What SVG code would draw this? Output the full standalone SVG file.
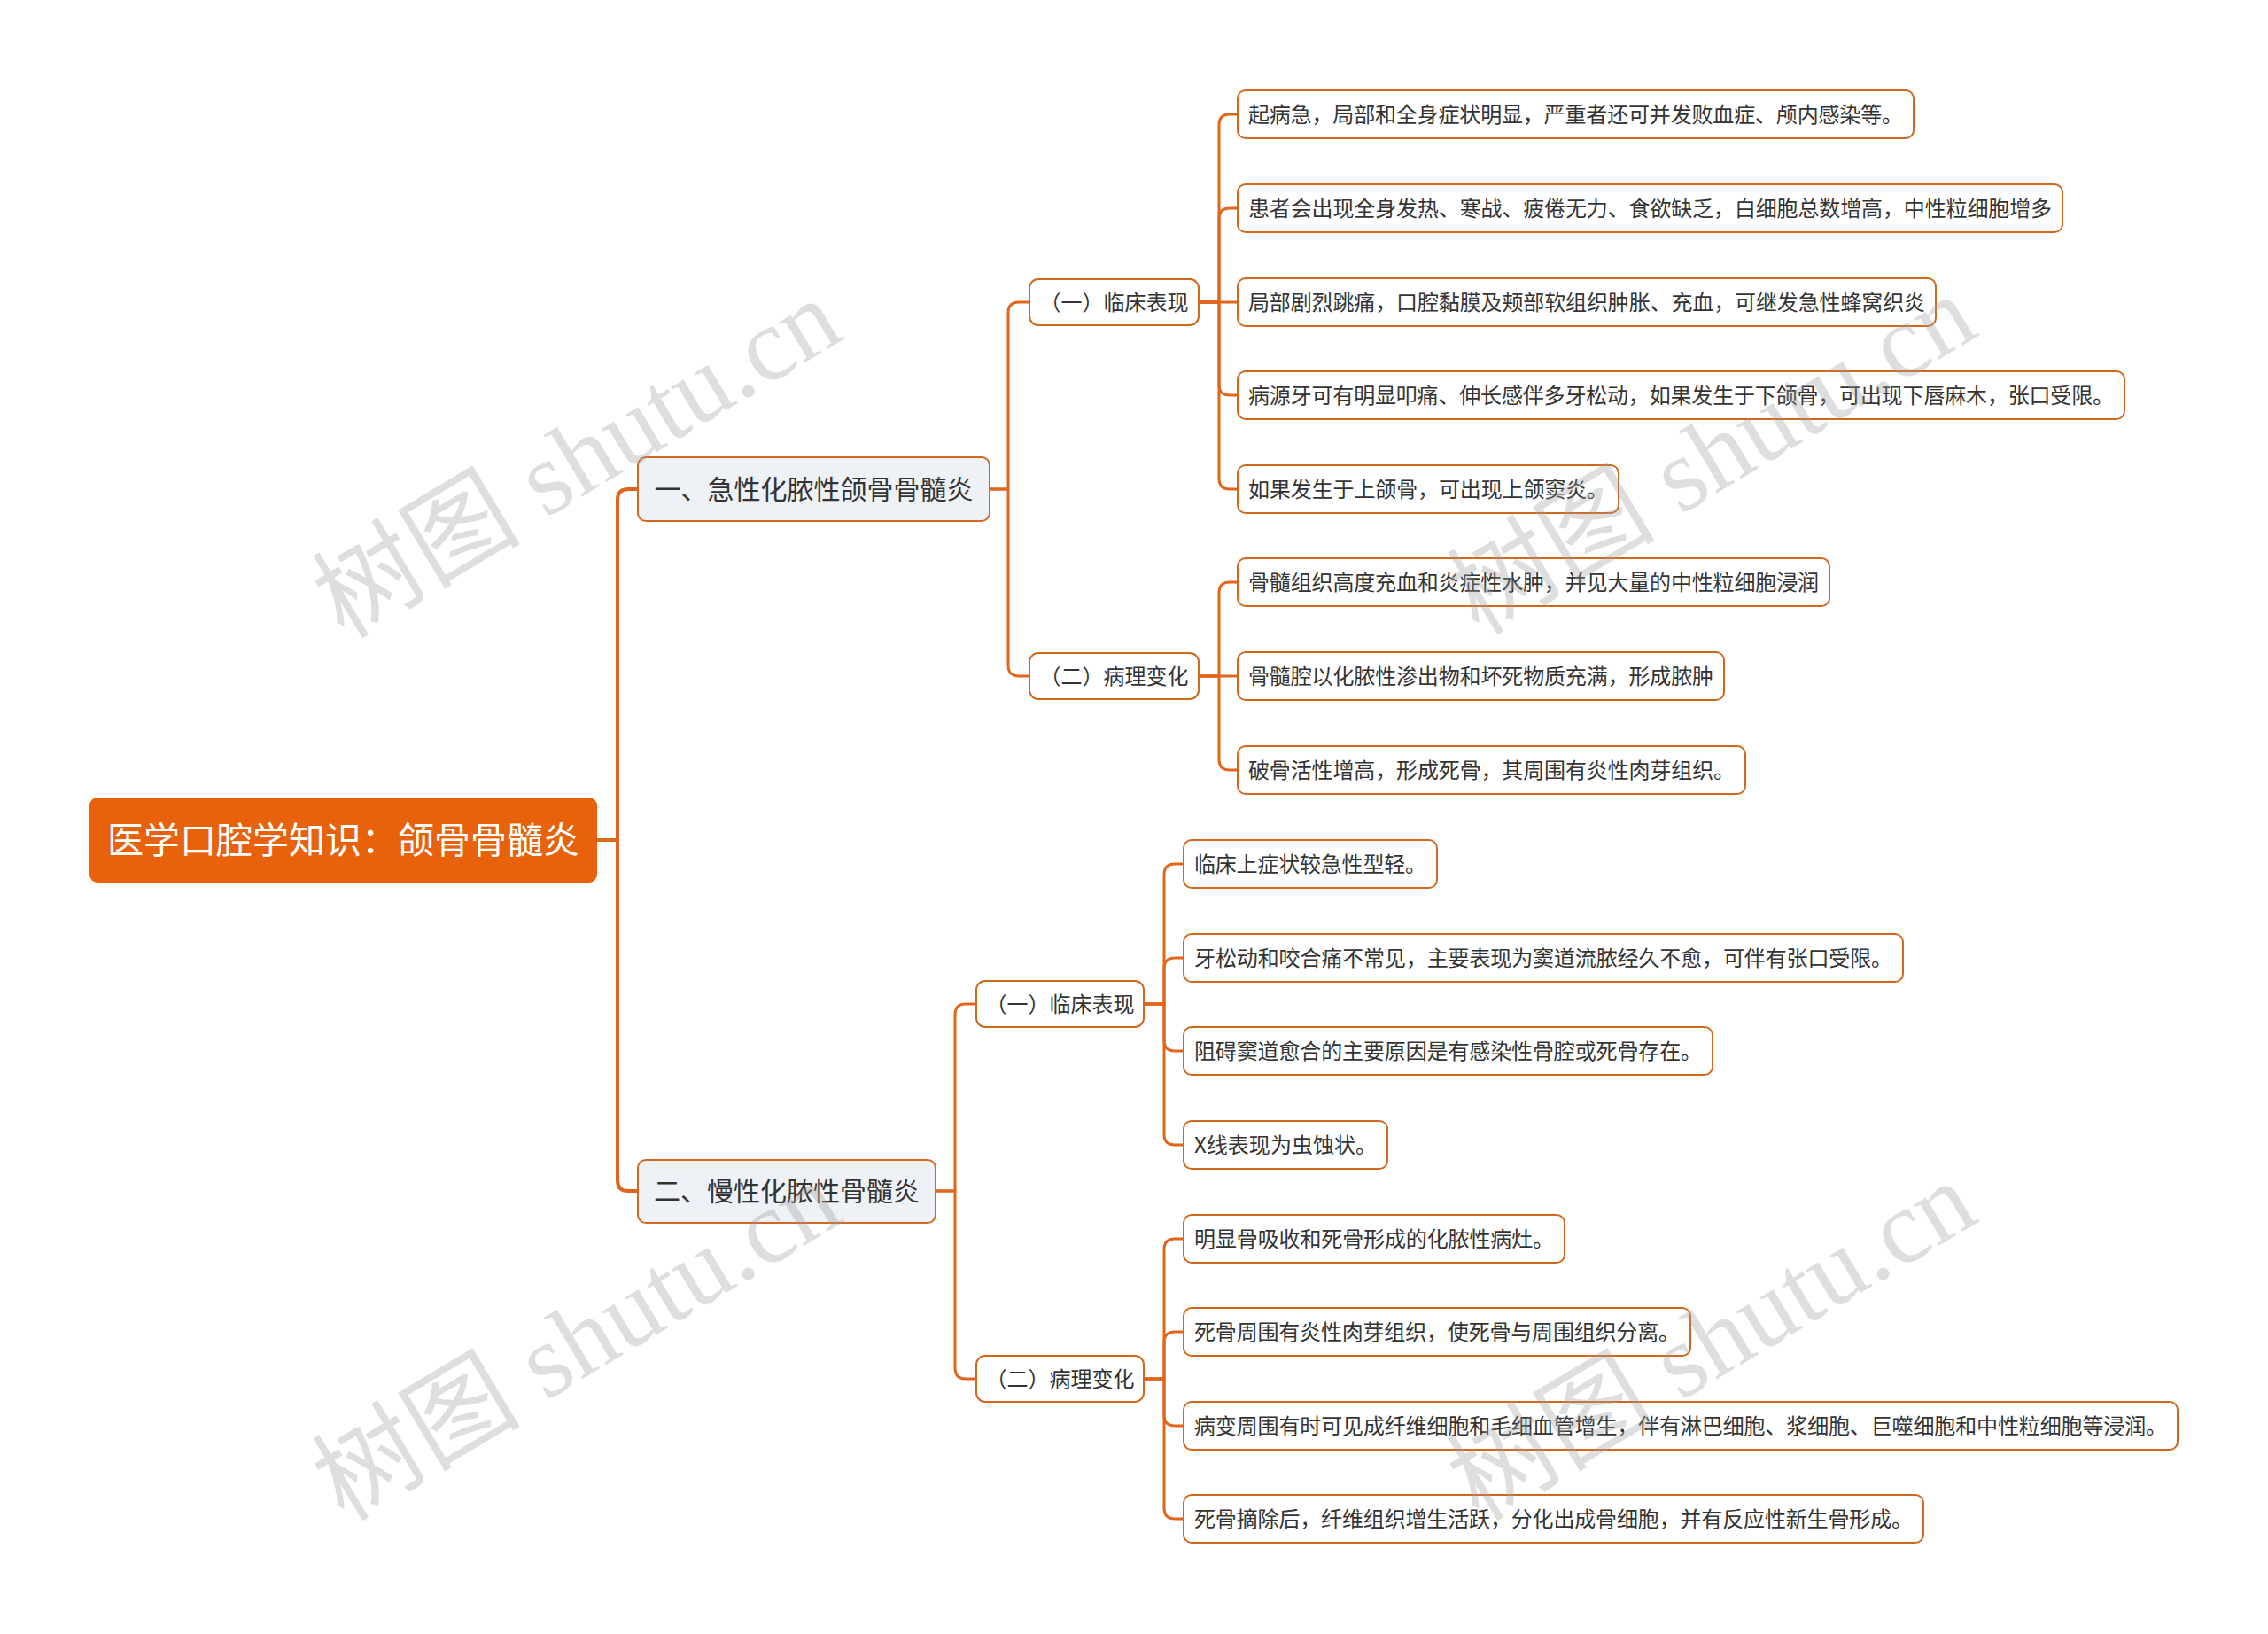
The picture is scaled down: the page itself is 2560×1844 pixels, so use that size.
<svg xmlns="http://www.w3.org/2000/svg" width="2560" height="1844" viewBox="0 0 2560 1844">
<style>
.conn{fill:none;stroke:#E2651C;stroke-width:3;stroke-linecap:round;stroke-linejoin:round}
.conn0{fill:none;stroke:#E2651C;stroke-width:4;stroke-linecap:round;stroke-linejoin:round}
.leaf rect{fill:#FFFFFF;stroke:#D2681F;stroke-width:2}
.l2 rect{fill:#FFFFFF;stroke:#D2681F;stroke-width:2}
.l1 rect{fill:#EEF1F5;stroke:#D2681F;stroke-width:2}
.root rect{fill:#E8620C}
text{font-family:"Noto Sans CJK SC","Noto Sans",sans-serif;fill:#333333}
.leaf text{font-size:24px}
.l2 text{font-size:24px;text-anchor:middle}
.l1 text{font-size:30px;text-anchor:middle}
.root text{font-size:41px;fill:#FFFFFF;text-anchor:middle}
.wm{font-family:"Liberation Serif","Noto Sans CJK SC",serif;font-size:118px;fill:#9A9A9A;fill-opacity:0.33;text-anchor:middle}
</style>
<rect x="0" y="0" width="2560" height="1844" fill="#FFFFFF"/>
<g id="connectors">
<path class="conn0" d="M674,948 H697"/>
<path class="conn0" d="M674,948 H697 V564 Q697,552 709,552 H720"/>
<path class="conn0" d="M674,948 H697 V1332 Q697,1344 709,1344 H720"/>
<path class="conn" d="M1117,552 H1138 V353 Q1138,341 1150,341 H1162"/>
<path class="conn" d="M1117,552 H1138 V751 Q1138,763 1150,763 H1162"/>
<path class="conn" d="M1056,1344 H1078 V1145 Q1078,1133 1090,1133 H1102"/>
<path class="conn" d="M1056,1344 H1078 V1544 Q1078,1556 1090,1556 H1102"/>
<path class="conn" d="M1353,341 H1376 V141 Q1376,129 1388,129 H1397"/>
<path class="conn" d="M1353,341 H1376 V247 Q1376,235 1388,235 H1397"/>
<path class="conn" d="M1353,341 H1397"/>
<path class="conn" d="M1353,341 H1376 V434 Q1376,446 1388,446 H1397"/>
<path class="conn" d="M1353,341 H1376 V540 Q1376,552 1388,552 H1397"/>
<path class="conn" d="M1353,763 H1376 V669 Q1376,657 1388,657 H1397"/>
<path class="conn" d="M1353,763 H1397"/>
<path class="conn" d="M1353,763 H1376 V857 Q1376,869 1388,869 H1397"/>
<path class="conn" d="M1291,1133 H1314 V987 Q1314,975 1326,975 H1336"/>
<path class="conn" d="M1291,1133 H1314 V1093 Q1314,1081 1326,1081 H1336"/>
<path class="conn" d="M1291,1133 H1314 V1174 Q1314,1186 1326,1186 H1336"/>
<path class="conn" d="M1291,1133 H1314 V1280 Q1314,1292 1326,1292 H1336"/>
<path class="conn" d="M1291,1556 H1314 V1410 Q1314,1398 1326,1398 H1336"/>
<path class="conn" d="M1291,1556 H1314 V1515 Q1314,1503 1326,1503 H1336"/>
<path class="conn" d="M1291,1556 H1314 V1597 Q1314,1609 1326,1609 H1336"/>
<path class="conn" d="M1291,1556 H1314 V1702 Q1314,1714 1326,1714 H1336"/>
</g>
<g id="root" class="root"><rect x="101" y="900" width="573" height="96" rx="9"/><text x="387.5" y="963">医学口腔学知识：颌骨骨髓炎</text></g>
<g id="n1" class="l1"><rect x="720" y="516" width="397" height="72" rx="9"/><text x="918.5" y="563">一、急性化脓性颌骨骨髓炎</text></g>
<g id="n2" class="l1"><rect x="720" y="1309" width="336" height="71" rx="9"/><text x="888" y="1355">二、慢性化脓性骨髓炎</text></g>
<g id="n1a" class="l2"><rect x="1162" y="315" width="191" height="52" rx="10"/><text x="1257.5" y="350">（一）临床表现</text></g>
<g id="n1b" class="l2"><rect x="1162" y="737" width="191" height="52" rx="10"/><text x="1257.5" y="772">（二）病理变化</text></g>
<g id="n2a" class="l2"><rect x="1102" y="1107" width="189" height="52" rx="10"/><text x="1196.5" y="1142">（一）临床表现</text></g>
<g id="n2b" class="l2"><rect x="1102" y="1530" width="189" height="52" rx="10"/><text x="1196.5" y="1565">（二）病理变化</text></g>
<g id="leaf1" class="leaf"><rect x="1397" y="102" width="763" height="54" rx="9"/><text x="1409" y="138" textLength="739" lengthAdjust="spacing">起病急，局部和全身症状明显，严重者还可并发败血症、颅内感染等。</text></g>
<g id="leaf2" class="leaf"><rect x="1397" y="208" width="931" height="54" rx="9"/><text x="1409" y="244" textLength="907" lengthAdjust="spacing">患者会出现全身发热、寒战、疲倦无力、食欲缺乏，白细胞总数增高，中性粒细胞增多</text></g>
<g id="leaf3" class="leaf"><rect x="1397" y="314" width="788" height="54" rx="9"/><text x="1409" y="350" textLength="764" lengthAdjust="spacing">局部剧烈跳痛，口腔黏膜及颊部软组织肿胀、充血，可继发急性蜂窝织炎</text></g>
<g id="leaf4" class="leaf"><rect x="1397" y="419" width="1001" height="54" rx="9"/><text x="1409" y="455" textLength="977" lengthAdjust="spacing">病源牙可有明显叩痛、伸长感伴多牙松动，如果发生于下颌骨，可出现下唇麻木，张口受限。</text></g>
<g id="leaf5" class="leaf"><rect x="1397" y="525" width="430" height="54" rx="9"/><text x="1409" y="561" textLength="406" lengthAdjust="spacing">如果发生于上颌骨，可出现上颌窦炎。</text></g>
<g id="leaf6" class="leaf"><rect x="1397" y="630" width="668" height="54" rx="9"/><text x="1409" y="666" textLength="644" lengthAdjust="spacing">骨髓组织高度充血和炎症性水肿，并见大量的中性粒细胞浸润</text></g>
<g id="leaf7" class="leaf"><rect x="1397" y="736" width="549" height="54" rx="9"/><text x="1409" y="772" textLength="525" lengthAdjust="spacing">骨髓腔以化脓性渗出物和坏死物质充满，形成脓肿</text></g>
<g id="leaf8" class="leaf"><rect x="1397" y="842" width="573" height="54" rx="9"/><text x="1409" y="878" textLength="549" lengthAdjust="spacing">破骨活性增高，形成死骨，其周围有炎性肉芽组织。</text></g>
<g id="leaf9" class="leaf"><rect x="1336" y="948" width="286" height="54" rx="9"/><text x="1348" y="984" textLength="262" lengthAdjust="spacing">临床上症状较急性型轻。</text></g>
<g id="leaf10" class="leaf"><rect x="1336" y="1054" width="812" height="54" rx="9"/><text x="1348" y="1090" textLength="788" lengthAdjust="spacing">牙松动和咬合痛不常见，主要表现为窦道流脓经久不愈，可伴有张口受限。</text></g>
<g id="leaf11" class="leaf"><rect x="1336" y="1159" width="597" height="54" rx="9"/><text x="1348" y="1195" textLength="573" lengthAdjust="spacing">阻碍窦道愈合的主要原因是有感染性骨腔或死骨存在。</text></g>
<g id="leaf12" class="leaf"><rect x="1336" y="1265" width="230" height="54" rx="9"/><text x="1348" y="1301" textLength="206" lengthAdjust="spacing">X线表现为虫蚀状。</text></g>
<g id="leaf13" class="leaf"><rect x="1336" y="1371" width="430" height="54" rx="9"/><text x="1348" y="1407" textLength="406" lengthAdjust="spacing">明显骨吸收和死骨形成的化脓性病灶。</text></g>
<g id="leaf14" class="leaf"><rect x="1336" y="1476" width="572" height="54" rx="9"/><text x="1348" y="1512" textLength="548" lengthAdjust="spacing">死骨周围有炎性肉芽组织，使死骨与周围组织分离。</text></g>
<g id="leaf15" class="leaf"><rect x="1336" y="1582" width="1122" height="54" rx="9"/><text x="1348" y="1618" textLength="1098" lengthAdjust="spacing">病变周围有时可见成纤维细胞和毛细血管增生，伴有淋巴细胞、浆细胞、巨噬细胞和中性粒细胞等浸润。</text></g>
<g id="leaf16" class="leaf"><rect x="1336" y="1687" width="835" height="54" rx="9"/><text x="1348" y="1723" textLength="811" lengthAdjust="spacing">死骨摘除后，纤维组织增生活跃，分化出成骨细胞，并有反应性新生骨形成。</text></g>
<g id="watermarks">
<text class="wm" transform="translate(649,514) rotate(-31)" x="0" y="44">树图 shutu.cn</text>
<text class="wm" transform="translate(1930,510) rotate(-31)" x="0" y="44">树图 shutu.cn</text>
<text class="wm" transform="translate(649,1510) rotate(-31)" x="0" y="44">树图 shutu.cn</text>
<text class="wm" transform="translate(1930,1510) rotate(-31)" x="0" y="44">树图 shutu.cn</text>
</g>
</svg>
